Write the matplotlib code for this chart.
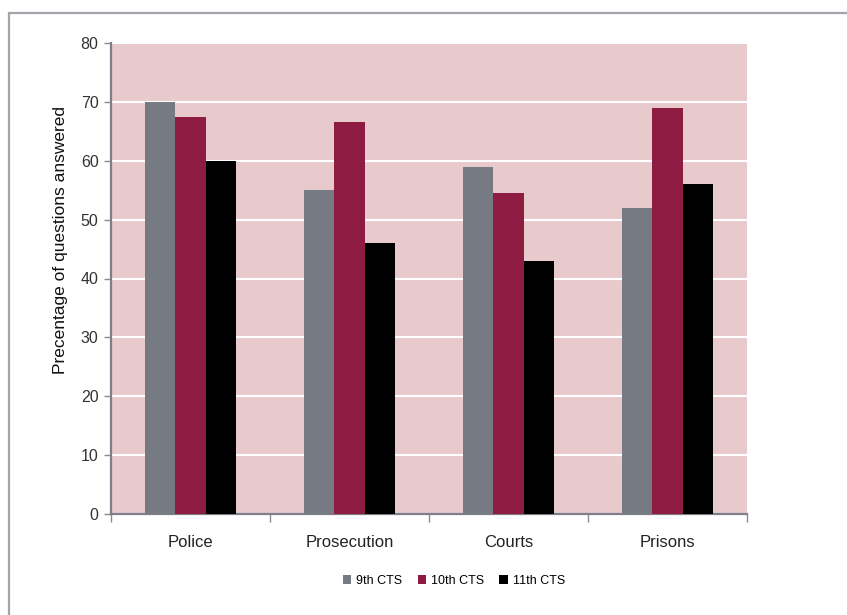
import numpy as np
import matplotlib
matplotlib.use("Agg")
import matplotlib.pyplot as plt
from matplotlib.patches import Rectangle

plt.rcParams['font.family'] = ['Liberation Sans Narrow', 'Liberation Sans', 'DejaVu Sans']

categories = ['Police', 'Prosecution', 'Courts', 'Prisons']
series = ['9th CTS', '10th CTS', '11th CTS']
cts9 = [70, 55, 59, 52]
cts10 = [67.5, 66.5, 54.5, 69]
cts11 = [60, 46, 43, 56]
colors = ['#767A83', '#8E1B42', '#000000']

fig = plt.figure(figsize=(8.47, 6.15), dpi=100)
ax = fig.add_axes([111 / 847, 101 / 615, 636 / 847, 471 / 615])

# frame around the chart, runs off the right and bottom edge
fig.patches.append(Rectangle((9 / 847, -0.05), 1.2, (615 - 13) / 615 + 0.05,
                             transform=fig.transFigure, fill=False,
                             edgecolor='#A3A3AB', linewidth=1.6))

x = np.arange(len(categories))
w = 0.192
for i, (vals, lab) in enumerate(zip([cts9, cts10, cts11], series)):
    ax.bar(x + (i - 1) * w, vals, width=w, color=colors[i], label=lab, zorder=3)

ax.set_facecolor('#E8CACD')
ax.set_xlim(-0.5, 3.5)
ax.set_ylim(0, 80)
ax.set_yticks(range(0, 81, 10))
ax.yaxis.grid(True, color='white', linewidth=1.5, zorder=1)
ax.set_axisbelow(True)

ax.set_xticks(np.arange(-0.5, 4, 1))
ax.set_xticklabels([])
ax.set_xticks(x, minor=True)
ax.set_xticklabels(categories, minor=True, fontsize=12, color='#222222')
ax.tick_params(axis='x', which='minor', length=0, pad=15)
ax.tick_params(axis='x', which='major', length=6, color='#8A8A92', width=1)
ax.tick_params(axis='y', length=5, color='#8A8A92', width=1, labelsize=11.5,
               labelcolor='#333333', pad=4)

for s in ['top', 'right']:
    ax.spines[s].set_visible(False)
for s in ['left', 'bottom']:
    ax.spines[s].set_color('#7F7F8A')
    ax.spines[s].set_linewidth(1.6)

ax.set_ylabel('Precentage of questions answered', fontsize=12.5, color='#111111')
ax.yaxis.set_label_coords(-0.068, 0.582)

ax.legend(loc='center', bbox_to_anchor=(454 / 847, 34 / 615), bbox_transform=fig.transFigure,
          ncol=3, frameon=False, fontsize=9, handlelength=0.7, handleheight=0.7,
          handletextpad=0.4, columnspacing=1.2)

fig.savefig('out.png', dpi=100)
